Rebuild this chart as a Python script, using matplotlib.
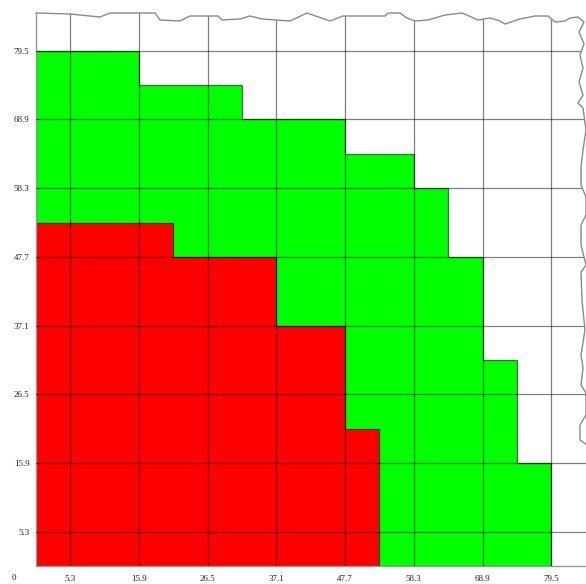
import matplotlib
matplotlib.use('Agg')
import matplotlib.pyplot as plt
from matplotlib.patches import Polygon
import numpy as np

# step edges and heights of the two filled regions
green_x = [0, 15.9, 31.8, 47.7, 58.3, 63.6, 68.9, 74.2, 79.5]
green_h = [79.5, 74.2, 68.9, 63.6, 58.3, 47.7, 31.8, 15.9]
red_x = [0, 21.2, 37.1, 47.7, 53.0]
red_h = [53.0, 47.7, 37.1, 21.2]

ticks = [5.3, 15.9, 26.5, 37.1, 47.7, 58.3, 68.9, 79.5]
tick_labels = ['5.3', '15.9', '26.5', '37.1', '47.7', '58.3', '68.9', '79.5']

W, H = 586, 584
X0, Y0 = 35.6, 566.4      # pixel position of the origin (y from top)
PX = 6.487                # pixels per data unit

# ragged paper edge along the top and right side, in pixels (y from top)
TOP_EDGE = [(36, 13), (70, 14), (100, 17), (110, 13), (155, 13), (160, 20),
            (180, 21), (190, 16), (218, 16), (222, 20), (240, 19), (250, 16),
            (262, 19), (290, 21), (307, 13), (330, 21), (343, 16), (385, 16),
            (388, 13), (400, 13), (407, 18), (415, 21), (428, 20), (445, 15),
            (462, 13), (478, 20), (490, 18), (500, 21), (505, 24), (520, 19),
            (535, 16), (548, 16), (555, 22), (565, 21), (570, 18), (578, 17)]
RIGHT_EDGE = [(584, 22), (579, 32), (584, 44), (580, 55), (583, 68),
              (579, 82), (583, 95), (578, 103), (583, 108), (586, 130),
              (583, 150), (581, 167), (581, 185), (586, 197), (586, 215),
              (581, 225), (581, 245), (586, 265), (581, 272), (582, 300),
              (585, 330), (581, 355), (583, 368), (581, 385), (586, 393),
              (586, 415), (580, 425), (580, 440), (587, 445)]

fig = plt.figure(figsize=(W / 100, H / 100), dpi=100)
ax = fig.add_axes([X0 / W, (H - Y0) / H, (W - X0) / W, Y0 / H])
ax.set_xlim(0, (W - X0) / PX)
ax.set_ylim(0, Y0 / PX)

ax.fill_between(green_x, np.append(green_h, green_h[-1]), step='post',
                facecolor='#00ff00', edgecolor=(0, 0, 0, 0.55), linewidth=0.9)
ax.fill_between(red_x, np.append(red_h, red_h[-1]), step='post',
                facecolor='#ff0000', edgecolor=(0, 0, 0, 0.55), linewidth=0.9)

ax.set_xticks(ticks)
ax.set_xticklabels(tick_labels)
ax.set_yticks(ticks)
ax.set_yticklabels(tick_labels)
ax.tick_params(length=0, labelsize=6.5, labelcolor='#222222')
ax.tick_params(axis='x', pad=6.5)
ax.tick_params(axis='y', pad=4.5)
for lab in ax.get_xticklabels() + ax.get_yticklabels():
    lab.set_family('Liberation Serif')
ax.set_axisbelow(False)
ax.grid(True, color='black', alpha=0.5, linewidth=0.9)

for side in ['top', 'right']:
    ax.spines[side].set_visible(False)
for side in ['left', 'bottom']:
    ax.spines[side].set_color('#999999')
    ax.spines[side].set_linewidth(1.0)

ax.annotate('0', xy=(0, 0), xycoords='data', xytext=(-22, -12),
            textcoords='offset pixels', ha='center', va='center',
            fontsize=6.5, family='Liberation Serif', color='#222222')


def to_fig(pts):
    return [(x / W, 1 - y / H) for x, y in pts]


edge = TOP_EDGE + RIGHT_EDGE
cover = [(30, -5), (30, 13)] + edge + [(600, 445), (600, -5)]
fig.patches.append(Polygon(to_fig(cover), closed=True, facecolor='white',
                           edgecolor='none', transform=fig.transFigure,
                           zorder=10))
ex, ey = zip(*to_fig(edge))
fig.add_artist(plt.Line2D(ex, ey, color='#8a8a8a', linewidth=1.0,
                          transform=fig.transFigure, zorder=11))

fig.savefig('out.png', dpi=100)
